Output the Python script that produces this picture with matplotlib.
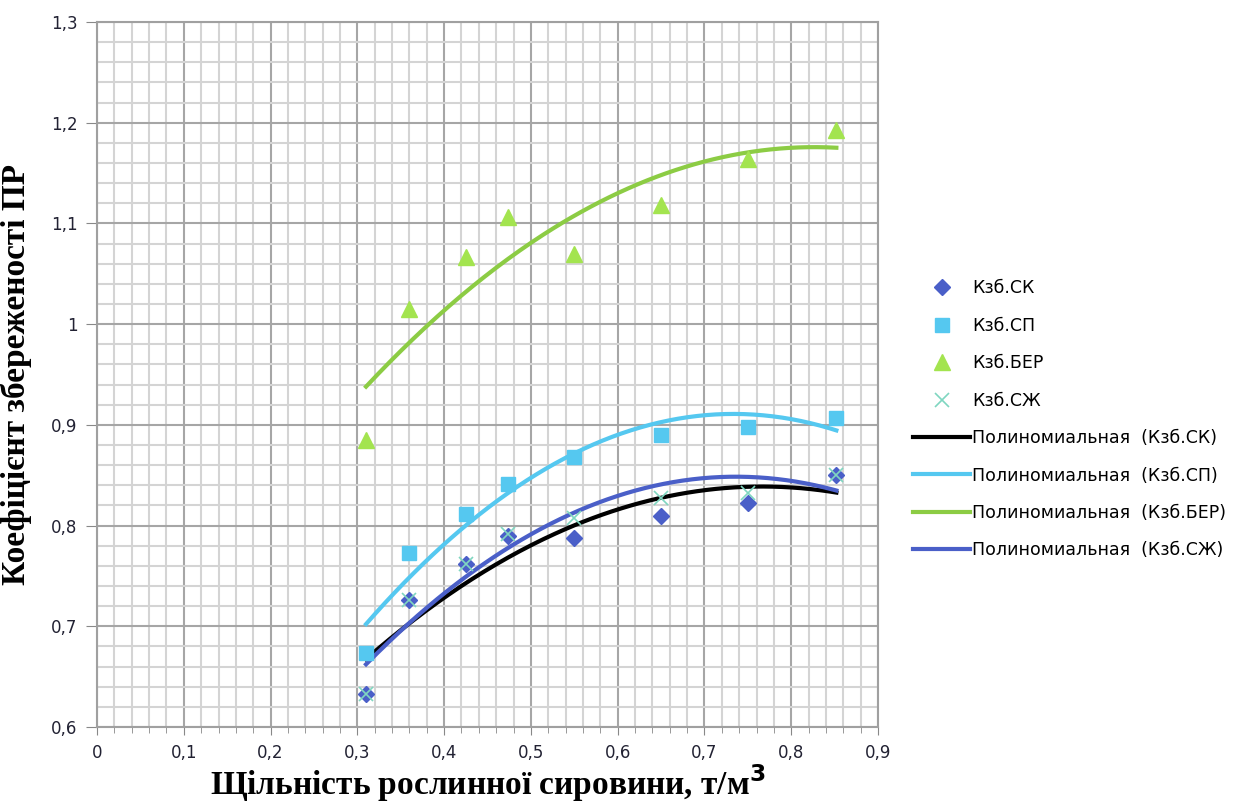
import numpy as np
import matplotlib.pyplot as plt
from matplotlib.ticker import MultipleLocator, FuncFormatter

plt.rcParams['font.family'] = 'DejaVu Sans'

# density of raw material, t/m3
x = [0.31, 0.36, 0.425, 0.474, 0.55, 0.65, 0.75, 0.852]

# preservation coefficient per series
k_sk = [0.633, 0.726, 0.762, 0.790, 0.788, 0.810, 0.822, 0.850]
k_sp = [0.674, 0.773, 0.812, 0.841, 0.868, 0.890, 0.898, 0.907]
k_ber = [0.885, 1.015, 1.067, 1.106, 1.070, 1.118, 1.164, 1.193]
k_szh = [0.633, 0.726, 0.762, 0.792, 0.808, 0.827, 0.832, 0.850]

names = ['Кзб.СК', 'Кзб.СП', 'Кзб.БЕР', 'Кзб.СЖ']

fig = plt.figure(figsize=(12.33, 8.08), dpi=100)
ax = fig.add_axes([0.0787, 0.1002, 0.6334, 0.8726])

# scatter points
ax.plot(x, k_sk, 'D', color='#4a5fc8', ms=8, ls='none', label=names[0], zorder=4)
ax.plot(x, k_sp, 's', color='#55c8f0', ms=10, ls='none', label=names[1], zorder=4)
ax.plot(x, k_ber, '^', color='#a3e44f', ms=11, ls='none', label=names[2], zorder=4)
ax.plot(x, k_szh, 'x', color='#7fd6c0', ms=10, mew=1.2, ls='none', label=names[3], zorder=5)

# second order polynomial trend lines (as in the spreadsheet)
xs = np.linspace(min(x), max(x), 200)
trend_colors = ['black', '#55c8f0', '#8ccc44', '#4a5fc8']
for ys, c, n in zip([k_sk, k_sp, k_ber, k_szh], trend_colors, names):
    p = np.polyfit(x, ys, 2)
    ax.plot(xs, np.polyval(p, xs), color=c, lw=3, label='Полиномиальная  (' + n + ')', zorder=3)

ax.set_xlim(0, 0.9)
ax.set_ylim(0.6, 1.3)
ax.xaxis.set_major_locator(MultipleLocator(0.1))
ax.xaxis.set_minor_locator(MultipleLocator(0.02))
ax.yaxis.set_major_locator(MultipleLocator(0.1))
ax.yaxis.set_minor_locator(MultipleLocator(0.02))
ax.grid(which='minor', color='#d4d4d4', lw=1.5)
ax.grid(which='major', color='#a6a6a6', lw=1.5)
ax.set_axisbelow(True)

fmt = FuncFormatter(lambda v, pos: ('%g' % round(v, 2)).replace('.', ','))
ax.xaxis.set_major_formatter(fmt)
ax.yaxis.set_major_formatter(fmt)
ax.tick_params(which='both', colors='#888888', labelcolor='#222233', labelsize=12)
ax.tick_params(axis='x', which='major', length=6, pad=6)
ax.tick_params(axis='x', which='minor', length=4)
ax.tick_params(axis='y', which='major', length=8, pad=6)
ax.tick_params(axis='y', which='minor', length=0)
for s in ax.spines.values():
    s.set_color('#a0a0a0')
    s.set_linewidth(1.5)

ax.set_xlabel('Щільність рослинної сировини, т/м$^{\\mathbf{3}}$', family='Liberation Serif',
              fontweight='bold', fontsize=24, labelpad=0)
ax.set_ylabel('Коефіцієнт збереженості ПР', family='Liberation Serif',
              fontweight='bold', fontsize=24, labelpad=14)

leg = fig.legend(loc='center left', bbox_to_anchor=(0.735, 0.481), frameon=False,
                 fontsize=12.5, handlelength=3.3, handletextpad=0.1, labelspacing=1.12,
                 borderaxespad=0)

plt.savefig('out.png', dpi=100)
